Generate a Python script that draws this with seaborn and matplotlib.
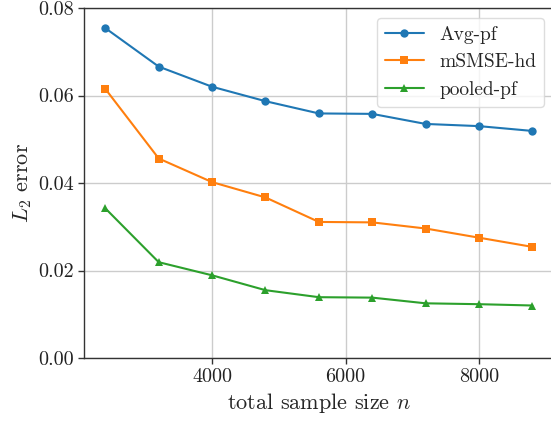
import matplotlib
matplotlib.use("Agg")
import matplotlib.pyplot as plt
import seaborn as sns
import pandas as pd

n_values = [2400, 3200, 4000, 4800, 5600, 6400, 7200, 8000, 8800]
avg_pf = [0.0754, 0.0666, 0.0620, 0.0587, 0.0559, 0.0558, 0.0535, 0.0530, 0.0519]
msmse_hd = [0.0615, 0.0456, 0.0402, 0.0367, 0.0311, 0.0310, 0.0296, 0.0275, 0.0254]
pooled_pf = [0.0342, 0.0219, 0.0189, 0.0155, 0.0139, 0.0138, 0.0125, 0.0123, 0.0120]
series_names = ["Avg-pf", "mSMSE-hd", "pooled-pf"]
x_ticks = [4000, 6000, 8000]
y_ticks = [0.00, 0.02, 0.04, 0.06, 0.08]

sns.set_theme(style="ticks")
plt.rcParams.update({
    "font.family": ["cmr10", "DejaVu Serif"],
    "mathtext.fontset": "cm",
    "axes.formatter.use_mathtext": True,
    "axes.unicode_minus": False,
    "axes.edgecolor": "#333333",
    "axes.linewidth": 1.0,
    "xtick.color": "#333333",
    "ytick.color": "#333333",
    "xtick.labelcolor": "#222222",
    "ytick.labelcolor": "#222222",
    "font.size": 14,
})

df = pd.DataFrame({
    "n": n_values * 3,
    "err": avg_pf + msmse_hd + pooled_pf,
    "method": sum([[s] * len(n_values) for s in series_names], []),
})

fig = plt.figure(figsize=(5.51, 4.21), dpi=100)
ax = fig.add_axes([84 / 551, 63 / 421, (553.7 - 84) / 551, 350 / 421])

colors = ["#1f77b4", "#ff7f0e", "#2ca02c"]
markers = ["o", "s", "^"]
for name, c, m in zip(series_names, colors, markers):
    sub = df[df["method"] == name]
    sns.lineplot(data=sub, x="n", y="err", ax=ax, color=c, marker=m,
                 markersize=6, markeredgewidth=0, linewidth=1.5, label=name)

ax.set_xlim(2080, 9120)
ax.set_ylim(0, 0.08)
ax.set_xticks(x_ticks)
ax.set_yticks(y_ticks)
ax.set_yticklabels([f"{v:.2f}" for v in y_ticks])
ax.set_xticklabels([str(v) for v in x_ticks])
ax.tick_params(labelsize=14.5, length=4, width=1)
ax.grid(True, color="#cccccc", linewidth=1.0)
ax.set_xlabel("total sample size $n$", fontsize=16, labelpad=3)
ax.set_ylabel("$L_2$ error", fontsize=16, labelpad=3)
for s in ax.spines.values():
    s.set_visible(True)
leg = ax.legend(loc="upper right", fontsize=14, frameon=True, fancybox=True,
                framealpha=0.8, edgecolor="#d5d5d5")
fig.savefig("out.png", dpi=100)
